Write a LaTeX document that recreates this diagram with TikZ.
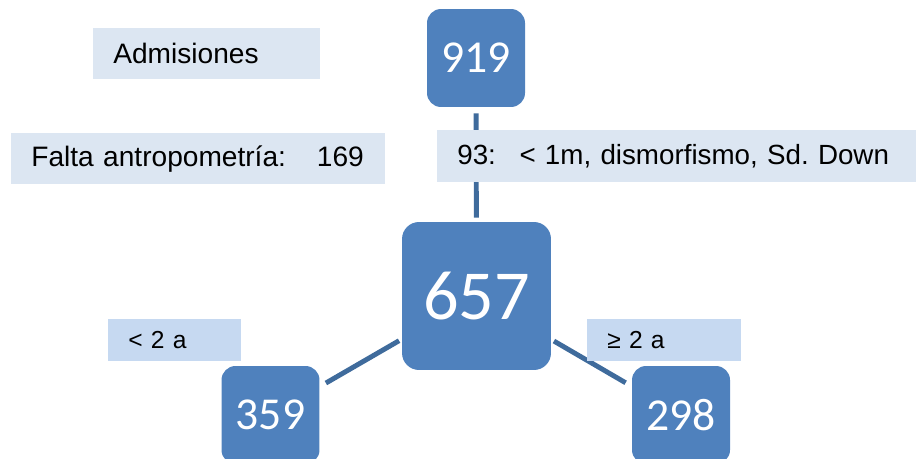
\documentclass[tikz,border=0pt]{standalone}
\usepackage{fontspec}
\setmainfont{Liberation Sans}
\newfontfamily\numfont{Carlito}
\usepackage{tikz}
\usetikzlibrary{positioning}
\frenchspacing
\definecolor{boxblue}{HTML}{4F81BD}
\definecolor{lineblue}{HTML}{3F6B9C}
\definecolor{notefill}{HTML}{DCE6F2}
\definecolor{agefill}{HTML}{C6D9F1}
\tikzstyle{count}=[rectangle, fill=boxblue, rounded corners=0.28cm, text=white, inner sep=0pt, minimum width=1.96cm, minimum height=1.96cm, font=\numfont\fontsize{26}{30}\selectfont]
\tikzstyle{bigcount}=[count, rounded corners=0.34cm, minimum width=2.98cm, minimum height=2.96cm, font=\numfont\fontsize{40}{46}\selectfont]
\tikzstyle{note}=[rectangle, fill=notefill, text=black, anchor=north west, inner xsep=0.4cm, inner ysep=0pt, minimum height=1.02cm, align=left, font=\fontsize{16}{19}\selectfont]
\tikzstyle{age}=[note, fill=agefill, minimum height=0.84cm, font=\fontsize{14}{17}\selectfont]
\tikzstyle{link}=[draw=lineblue, line width=2.8pt]

\begin{document}
\begin{tikzpicture}[x=0.02cm, y=-0.02cm]
        \useasboundingbox (0,0) rectangle (918,459);
        \clip (0,0) rectangle (918,459);
        \node(total)[count] at (476,58) {
            919
        };
        \node(measured)[bigcount] at (476.5,296) {
            657
        };
        \node(young)[count] at (270.5,415) {
            359
        };
        \node(old)[count] at (681,415) {
            298
        };
        % connectors under the labels
        \draw[link, shorten <=0.12cm, shorten >=0.08cm] (total) -- (measured);
        \draw[link, shorten <=0.06cm, shorten >=0.14cm] (measured) -- (young);
        \draw[link, shorten <=0.06cm, shorten >=0.14cm] (measured) -- (old);
        \node(admissions)[note, text width=3.74cm] at (93,28) {
            Admisiones
        };
        \node(missing)[note, text width=6.68cm] at (11,133) {
            \mbox{Falta antropometría:\hspace{1.1em}169}
        };
        \node(excluded)[note, text width=8.78cm, minimum height=1.04cm, font=\fontsize{15.8}{18}\selectfont] at (437,130) {
            \mbox{93:\hspace{0.85em}< 1m, dismorfismo, Sd. Down}
        };
        \node(under)[age, text width=1.86cm] at (108,319) {
            < 2 a
        };
        \node(over)[age, text width=2.28cm] at (587,319) {
            ≥ 2 a
        };
    \end{tikzpicture}
\end{document}
